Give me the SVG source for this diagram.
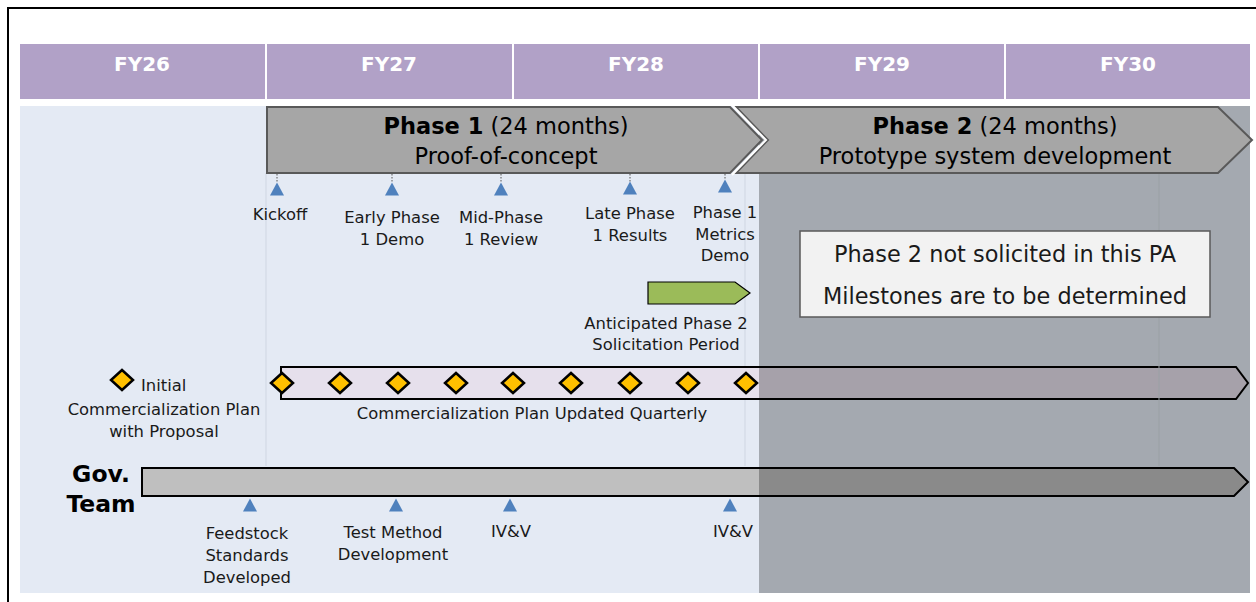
<svg xmlns="http://www.w3.org/2000/svg" width="1256" height="602" viewBox="0 0 1256 602">
<style>
.fy{font-family:"DejaVu Sans",Verdana,sans-serif;font-size:20px;font-weight:bold;fill:#ffffff;text-anchor:middle}
.t{font-family:"DejaVu Sans",Verdana,sans-serif;font-size:16.4px;fill:#1a1a1a;text-anchor:middle}
.ts{font-family:"DejaVu Sans",Verdana,sans-serif;font-size:16.4px;fill:#1a1a1a;text-anchor:start}
.ph{font-family:"DejaVu Sans",Verdana,sans-serif;font-size:22.5px;fill:#000;text-anchor:middle}
.bx{font-family:"DejaVu Sans",Verdana,sans-serif;font-size:22.4px;fill:#1a1a1a;text-anchor:middle}
.gov{font-family:"DejaVu Sans",Verdana,sans-serif;font-size:23.5px;font-weight:bold;fill:#000;text-anchor:middle}
.tri{fill:#4f81bd}
.dia{fill:#ffc000;stroke:#000;stroke-width:2.5}
.dot{stroke:#555;stroke-width:1;stroke-dasharray:1.5,1.5}
.vl{stroke:#cfd6e2;stroke-width:1}
</style>
<defs>
<polygon id="tri" class="tri" points="-7,6.5 7,6.5 0,-6.5"/>
<polygon id="dia" class="dia" points="0,-10 11,0 0,10 -11,0"/>
</defs>
<rect width="1256" height="602" fill="#ffffff"/>
<path d="M8,602 V8 H1256" fill="none" stroke="#000" stroke-width="2"/>
<g id="header">
<rect x="20" y="44" width="245" height="55" fill="#b1a1c7"/>
<rect x="267" y="44" width="245" height="55" fill="#b1a1c7"/>
<rect x="514" y="44" width="244" height="55" fill="#b1a1c7"/>
<rect x="760" y="44" width="244" height="55" fill="#b1a1c7"/>
<rect x="1006" y="44" width="244" height="55" fill="#b1a1c7"/>
<text class="fy" x="142" y="71">FY26</text>
<text class="fy" x="389" y="71">FY27</text>
<text class="fy" x="636" y="71">FY28</text>
<text class="fy" x="882" y="71">FY29</text>
<text class="fy" x="1128" y="71">FY30</text>
</g>
<rect x="20" y="106" width="1230" height="487" fill="#e4eaf4"/>
<line class="vl" x1="266" y1="173" x2="266" y2="466"/>
<line class="vl" x1="745" y1="173" x2="745" y2="466"/>
<g id="comm-bar">
<polygon points="281,367 1236,367 1248,383 1236,399 281,399" fill="#e6e0ec" stroke="#000" stroke-width="2"/>
<use href="#dia" x="282" y="383"/>
<use href="#dia" x="340" y="383"/>
<use href="#dia" x="398" y="383"/>
<use href="#dia" x="456" y="383"/>
<use href="#dia" x="513" y="383"/>
<use href="#dia" x="571" y="383"/>
<use href="#dia" x="630" y="383"/>
<use href="#dia" x="688" y="383"/>
<use href="#dia" x="746" y="383"/>
<text class="t" x="532" y="419">Commercialization Plan Updated Quarterly</text>
</g>
<g id="gov-bar">
<polygon points="142,468 1234,468 1248,482 1234,496 142,496" fill="#bfbfbf" stroke="#000" stroke-width="2"/>
</g>
<rect x="759" y="106" width="491" height="487" fill="#000" fill-opacity="0.28"/>
<line x1="1159" y1="173" x2="1159" y2="466" stroke="#9aa0a5" stroke-width="1"/>
<g id="phase1">
<polygon points="267,107 730,107 762,140 730,173 267,173" fill="#a6a6a6" stroke="#595959" stroke-width="2"/>
<text class="ph" x="506" y="134"><tspan font-weight="bold">Phase 1</tspan> (24 months)</text>
<text class="ph" x="506" y="164">Proof-of-concept</text>
</g>
<g id="phase2">
<polygon points="736,107 1218,107 1252,140 1218,173 736,173 768,140" fill="#a6a6a6" stroke="#595959" stroke-width="2"/>
<polyline points="732,105 766,140 732,175" fill="none" stroke="#ffffff" stroke-width="2"/>
<text class="ph" x="995" y="134"><tspan font-weight="bold">Phase 2</tspan> (24 months)</text>
<text class="ph" x="995" y="164">Prototype system development</text>
</g>
<g id="connectors">
<line class="dot" x1="277" y1="174" x2="277" y2="183"/>
<line class="dot" x1="392" y1="174" x2="392" y2="183"/>
<line class="dot" x1="501" y1="174" x2="501" y2="183"/>
<line class="dot" x1="630" y1="174" x2="630" y2="182"/>
<line class="dot" x1="725" y1="174" x2="725" y2="180"/>
</g>
<g id="m-kickoff"><use href="#tri" x="277" y="189"/><text class="t" x="280" y="220">Kickoff</text></g>
<g id="m-early"><use href="#tri" x="392" y="189"/><text class="t" x="392" y="223">Early Phase</text><text class="t" x="392" y="245">1 Demo</text></g>
<g id="m-mid"><use href="#tri" x="501" y="189"/><text class="t" x="501" y="223">Mid-Phase</text><text class="t" x="501" y="245">1 Review</text></g>
<g id="m-late"><use href="#tri" x="630" y="188"/><text class="t" x="630" y="219">Late Phase</text><text class="t" x="630" y="241">1 Results</text></g>
<g id="m-metrics"><use href="#tri" x="725" y="186"/><text class="t" x="725" y="218">Phase 1</text><text class="t" x="725" y="240">Metrics</text><text class="t" x="725" y="261">Demo</text></g>
<g id="solicitation">
<polygon points="648,282 735,282 750,293 735,304 648,304" fill="#9bbb59" stroke="#000" stroke-width="1.2"/>
<text class="t" x="666" y="329">Anticipated Phase 2</text>
<text class="t" x="666" y="350">Solicitation Period</text>
</g>
<g id="note">
<rect x="800" y="231" width="410" height="86" fill="#f2f2f2" stroke="#595959" stroke-width="1.5"/>
<text class="bx" x="1005" y="262">Phase 2 not solicited in this PA</text>
<text class="bx" x="1005" y="304">Milestones are to be determined</text>
</g>
<g id="initial">
<use href="#dia" x="122" y="380"/>
<text class="ts" x="141" y="391">Initial</text>
<text class="t" x="164" y="415">Commercialization Plan</text>
<text class="t" x="164" y="437">with Proposal</text>
</g>
<g id="gov-label">
<text class="gov" x="101" y="482">Gov.</text>
<text class="gov" x="101" y="512">Team</text>
</g>
<g id="g-feed"><use href="#tri" x="250" y="505"/><text class="t" x="247" y="539">Feedstock</text><text class="t" x="247" y="561">Standards</text><text class="t" x="247" y="583">Developed</text></g>
<g id="g-test"><use href="#tri" x="396" y="505"/><text class="t" x="393" y="538">Test Method</text><text class="t" x="393" y="560">Development</text></g>
<g id="g-ivv1"><use href="#tri" x="510" y="505"/><text class="t" x="511" y="537">IV&amp;V</text></g>
<g id="g-ivv2"><use href="#tri" x="730" y="505"/><text class="t" x="733" y="537">IV&amp;V</text></g>
</svg>
